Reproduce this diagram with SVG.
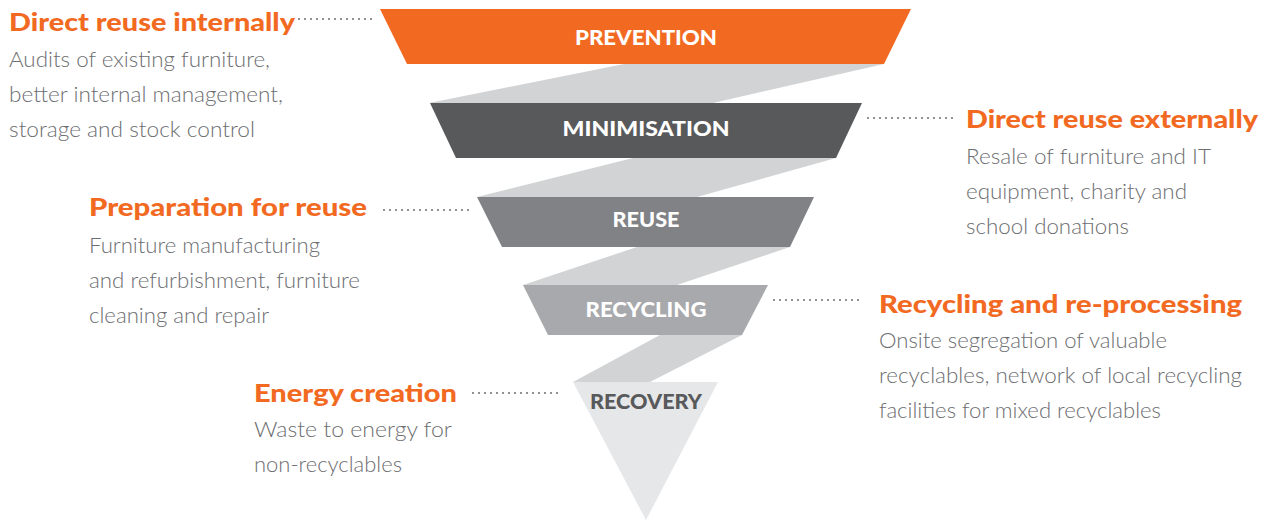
<svg xmlns="http://www.w3.org/2000/svg" width="1271" height="523" viewBox="0 0 1271 523">
<style>
.band{fill:#d1d3d4}
.lbl{font-family:"Lato","Liberation Sans",sans-serif;font-weight:900;font-size:21px;text-anchor:middle}
.hd{font-family:"Lato","Liberation Sans",sans-serif;font-weight:900;font-size:24px;fill:#f26a22}
.bd{font-family:"Lato","Liberation Sans",sans-serif;font-weight:300;font-size:21px;fill:#6d6e71}
.dot{stroke:#6d6e71;stroke-width:2;stroke-linecap:round;stroke-dasharray:0 6;fill:none}
</style>
<rect width="1271" height="523" fill="#ffffff"/>
<g id="ribbons">
<polygon class="band" points="429,103 624,64 884,64 713,103"/>
<polygon class="band" points="477,197 633,158 836,158 697,197"/>
<polygon class="band" points="523,285 637,247 790,247 677,285"/>
<polygon class="band" points="573,382 660,335 742,335 650,382"/>
</g>
<g id="prevention">
<polygon points="380,9 911,9 884,64 407,64" fill="#f26a22"/>
<text class="lbl" x="646" y="45" fill="#ffffff" textLength="142" lengthAdjust="spacingAndGlyphs">PREVENTION</text>
</g>
<g id="minimisation">
<polygon points="430,103 862,103 836,158 456,158" fill="#58595b"/>
<text class="lbl" x="646" y="136" fill="#ffffff" textLength="167" lengthAdjust="spacingAndGlyphs">MINIMISATION</text>
</g>
<g id="reuse">
<polygon points="477,197 814,197 790,247 502,247" fill="#808285"/>
<text class="lbl" x="646" y="227" fill="#ffffff" textLength="67" lengthAdjust="spacingAndGlyphs">REUSE</text>
</g>
<g id="recycling">
<polygon points="523,285 768,285 742,335 548,335" fill="#a7a9ac"/>
<text class="lbl" x="646" y="317" fill="#ffffff" textLength="121" lengthAdjust="spacingAndGlyphs">RECYCLING</text>
</g>
<g id="recovery">
<polygon points="573,382 718,382 646,520" fill="#e6e7e8"/>
<text class="lbl" x="646" y="409" fill="#58595b" textLength="112" lengthAdjust="spacingAndGlyphs">RECOVERY</text>
</g>
<g id="connectors">
<line class="dot" x1="299" y1="19" x2="372" y2="19"/>
<line class="dot" x1="868" y1="118" x2="955" y2="118"/>
<line class="dot" x1="384" y1="210" x2="472" y2="210"/>
<line class="dot" x1="774" y1="300" x2="862" y2="300"/>
<line class="dot" x1="473" y1="393" x2="562" y2="393"/>
</g>
<g id="direct-reuse-internally">
<text class="hd" x="9" y="31" textLength="286" lengthAdjust="spacingAndGlyphs">Direct reuse internally</text>
<text class="bd" x="9" y="67" textLength="261" lengthAdjust="spacingAndGlyphs">Audits of existing furniture,</text>
<text class="bd" x="9" y="102" textLength="274" lengthAdjust="spacingAndGlyphs">better internal management,</text>
<text class="bd" x="9" y="137" textLength="246" lengthAdjust="spacingAndGlyphs">storage and stock control</text>
</g>
<g id="direct-reuse-externally">
<text class="hd" x="966" y="128" textLength="292" lengthAdjust="spacingAndGlyphs">Direct reuse externally</text>
<text class="bd" x="966" y="164" textLength="245" lengthAdjust="spacingAndGlyphs">Resale of furniture and IT</text>
<text class="bd" x="966" y="199" textLength="221" lengthAdjust="spacingAndGlyphs">equipment, charity and</text>
<text class="bd" x="966" y="234" textLength="163" lengthAdjust="spacingAndGlyphs">school donations</text>
</g>
<g id="preparation-for-reuse">
<text class="hd" x="89" y="216" textLength="278" lengthAdjust="spacingAndGlyphs">Preparation for reuse</text>
<text class="bd" x="89" y="253" textLength="231" lengthAdjust="spacingAndGlyphs">Furniture manufacturing</text>
<text class="bd" x="89" y="288" textLength="271" lengthAdjust="spacingAndGlyphs">and refurbishment, furniture</text>
<text class="bd" x="89" y="323" textLength="180" lengthAdjust="spacingAndGlyphs">cleaning and repair</text>
</g>
<g id="recycling-and-reprocessing">
<text class="hd" x="879" y="313" textLength="363" lengthAdjust="spacingAndGlyphs">Recycling and re-processing</text>
<text class="bd" x="879" y="348" textLength="288" lengthAdjust="spacingAndGlyphs">Onsite segregation of valuable</text>
<text class="bd" x="879" y="383" textLength="363" lengthAdjust="spacingAndGlyphs">recyclables, network of local recycling</text>
<text class="bd" x="879" y="418" textLength="282" lengthAdjust="spacingAndGlyphs">facilities for mixed recyclables</text>
</g>
<g id="energy-creation">
<text class="hd" x="254" y="402" textLength="203" lengthAdjust="spacingAndGlyphs">Energy creation</text>
<text class="bd" x="254" y="437" textLength="198" lengthAdjust="spacingAndGlyphs">Waste to energy for</text>
<text class="bd" x="254" y="472" textLength="148" lengthAdjust="spacingAndGlyphs">non-recyclables</text>
</g>
</svg>
